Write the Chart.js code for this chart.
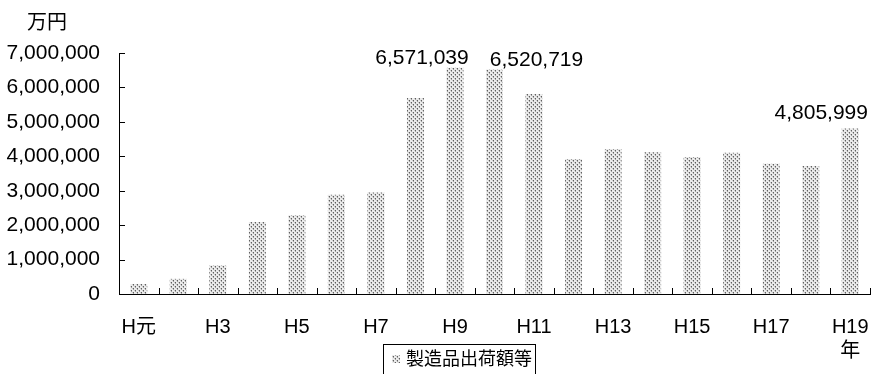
<!DOCTYPE html>
<html>
<head>
<meta charset="utf-8">
<script src="https://cdn.jsdelivr.net/npm/chart.js@4/dist/chart.umd.min.js"></script>
<style>
  html, body { margin: 0; padding: 0; background: #fff; }
  canvas { display: block; }
</style>
</head>
<body>
<canvas id="shipments-chart" width="871" height="374"></canvas>
<script>
// 年次（H元〜H19）
const years = ['H元', 'H2', 'H3', 'H4', 'H5', 'H6', 'H7', 'H8', 'H9', 'H10',
  'H11', 'H12', 'H13', 'H14', 'H15', 'H16', 'H17', 'H18', ['H19', '年']];
// 製造品出荷額等（万円）
const shipments = [290000, 440000, 830000, 2090000, 2290000, 2880000, 2950000, 5690000,
  6571039, 6520719, 5810000, 3920000, 4210000, 4120000, 3980000, 4100000, 3780000, 3720000, 4805999];
const seriesName = '製造品出荷額等';
const unitLabel = '万円';
const yMax = 7000000;
const yStep = 1000000;

const FONT = '"Liberation Sans", "Noto Sans CJK JP", sans-serif';
Chart.defaults.font.family = FONT;
Chart.defaults.color = '#000';

// 網掛け（ドット）のパターン
function dotPattern() {
  const tile = document.createElement('canvas');
  tile.width = 4; tile.height = 4;
  const g = tile.getContext('2d');
  g.fillStyle = '#ebebeb'; g.fillRect(0, 0, 4, 4);
  g.fillStyle = '#606060'; g.fillRect(1, 0, 1, 1); g.fillRect(3, 2, 1, 1);
  g.fillStyle = '#a0a0a0'; g.fillRect(1, 1, 1, 1); g.fillRect(3, 3, 1, 1);
  g.fillStyle = '#c8c8c8'; g.fillRect(0, 0, 1, 1); g.fillRect(2, 2, 1, 1);
  return g.createPattern(tile, 'repeat');
}
const barFill = dotPattern();

// 軸の内向き目盛り
const innerTicks = {
  id: 'innerTicks',
  afterDraw(chart, args, opts) {
    const ctx = chart.ctx;
    const x = chart.scales.x, y = chart.scales.y;
    const len = opts.length;
    ctx.save();
    ctx.strokeStyle = '#000';
    ctx.lineWidth = 1;
    ctx.beginPath();
    y.ticks.forEach((t, i) => {
      const py = Math.round(y.getPixelForTick(i)) + 0.5;
      ctx.moveTo(x.left, py);
      ctx.lineTo(x.left + len, py);
    });
    const n = x.ticks.length;
    for (let i = 0; i <= n; i++) {
      const px = Math.round(x.left + i * x.width / n) + 0.5;
      ctx.moveTo(px, y.bottom);
      ctx.lineTo(px, y.bottom - len);
    }
    ctx.stroke();
    ctx.restore();
  }
};

// 棒の上の数値ラベル
const valueLabels = {
  id: 'valueLabels',
  afterDatasetsDraw(chart, args, opts) {
    const meta = chart.getDatasetMeta(0);
    const ctx = chart.ctx;
    ctx.save();
    ctx.font = opts.font;
    ctx.fillStyle = '#000';
    ctx.textAlign = 'center';
    ctx.textBaseline = 'alphabetic';
    opts.points.forEach(p => {
      const bar = meta.data[p.index];
      const v = chart.data.datasets[0].data[p.index];
      ctx.fillText(v.toLocaleString('en-US'), bar.x + p.dx, bar.y - p.dy);
    });
    ctx.restore();
  }
};

// 単位と枠付き凡例
const unitAndLegend = {
  id: 'unitAndLegend',
  afterDraw(chart, args, opts) {
    const ctx = chart.ctx;
    ctx.save();
    ctx.fillStyle = '#000';
    ctx.font = '20px ' + FONT;
    ctx.textAlign = 'center';
    ctx.textBaseline = 'middle';
    ctx.fillText(unitLabel, 47, 23);

    const lg = opts.box;
    ctx.strokeStyle = '#000';
    ctx.lineWidth = 1;
    ctx.fillStyle = '#fff';
    ctx.fillRect(lg.x, lg.y, lg.w, lg.h);
    ctx.strokeRect(lg.x + 0.5, lg.y + 0.5, lg.w, lg.h);
    ctx.fillStyle = barFill;
    ctx.fillRect(lg.x + 9, lg.y + 11, 8, 8);
    ctx.fillStyle = '#000';
    ctx.font = '18px ' + FONT;
    ctx.textAlign = 'left';
    ctx.fillText(chart.data.datasets[0].label, lg.x + 23, lg.y + 16);
    ctx.restore();
  }
};

new Chart(document.getElementById('shipments-chart'), {
  type: 'bar',
  data: {
    labels: years,
    datasets: [{
      label: seriesName,
      data: shipments,
      backgroundColor: barFill,
      borderWidth: 0,
      categoryPercentage: 1,
      barPercentage: 0.43
    }]
  },
  options: {
    responsive: false,
    animation: false,
    layout: { padding: { top: 53, right: 1, left: 0, bottom: 0 } },
    plugins: {
      legend: { display: false },
      tooltip: { enabled: false },
      innerTicks: { length: 6 },
      valueLabels: {
        font: '21px ' + FONT,
        points: [
          { index: 8, dx: -33, dy: 4 },
          { index: 9, dx: 42, dy: 4 },
          { index: 18, dx: -29, dy: 10 }
        ]
      },
      unitAndLegend: { box: { x: 383, y: 344, w: 152, h: 34 } }
    },
    scales: {
      x: {
        offset: true,
        border: { display: true, color: '#000', width: 1 },
        grid: { display: false, offset: true, drawTicks: false },
        ticks: {
          autoSkip: false,
          maxRotation: 0,
          padding: 21,
          font: { size: 20 },
          callback: function (v, i) { return i % 2 === 0 ? this.getLabelForValue(v) : ''; }
        },
        afterFit: s => { s.height = 80; s.paddingLeft = 0; s.paddingRight = 0; }
      },
      y: {
        min: 0,
        max: yMax,
        border: { display: true, color: '#000', width: 1 },
        grid: { display: false, drawTicks: false },
        ticks: {
          stepSize: yStep,
          padding: 19,
          font: { size: 21 },
          callback: v => v.toLocaleString('en-US')
        },
        afterFit: s => { s.width = 119; s.paddingTop = 0; s.paddingBottom = 0; }
      }
    }
  },
  plugins: [innerTicks, valueLabels, unitAndLegend]
});
</script>
</body>
</html>
